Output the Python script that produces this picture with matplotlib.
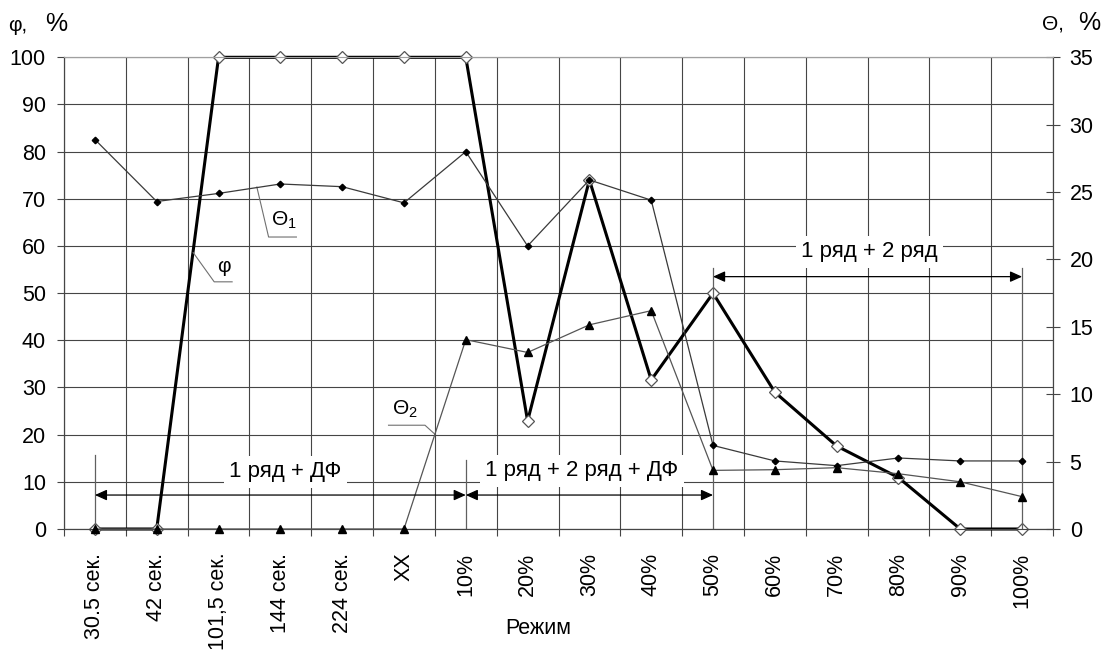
import numpy as np
import matplotlib
matplotlib.use("Agg")
import matplotlib.pyplot as plt

plt.rcParams['font.family'] = ['Liberation Sans', 'DejaVu Sans']
plt.rcParams['mathtext.fontset'] = 'custom'
plt.rcParams['mathtext.rm'] = 'Liberation Sans'
plt.rcParams['mathtext.it'] = 'Liberation Sans'

# ---- data ----
categories = ['30.5 сек.', '42 сек.', '101,5 сек.', '144 сек.', '224 сек.', 'ХХ',
              '10%', '20%', '30%', '40%', '50%', '60%', '70%', '80%', '90%', '100%']
phi = [0, 0, 100, 100, 100, 100, 100, 22.9, 74, 31.6, 50, 29, 17.6, 10.9, 0, 0]
theta1 = [28.9, 24.3, 24.9, 25.6, 25.4, 24.2, 28.0, 21.0, 25.9, 24.4, 6.2, 5.05, 4.7, 5.27, 5.05, 5.05]
theta2 = [0, 0, 0, 0, 0, 0, 14.05, 13.1, 15.15, 16.2, 4.35, 4.4, 4.55, 4.1, 3.5, 2.4]
left_ticks = list(range(0, 101, 10))
right_ticks = list(range(0, 36, 5))

W, H = 1115, 651
fig = plt.figure(figsize=(W / 100, H / 100), dpi=100)
x0, x1, ytop, ybot = 64, 1053, 57.3, 529
ax = fig.add_axes([x0 / W, 1 - ybot / H, (x1 - x0) / W, (ybot - ytop) / H])
ax2 = ax.twinx()

x = np.arange(len(categories))
gridc = '#454545'

ax.set_xlim(-0.5, len(categories) - 0.5)
ax.set_ylim(0, 100)
ax2.set_ylim(0, 35)

ax.set_xticks(x)
ax.set_xticklabels(categories, rotation=90, fontsize=15.5)
ax.set_xticks(np.arange(-0.5, len(categories), 1), minor=True)
ax.tick_params(axis='x', which='major', length=0, pad=17)
ax.tick_params(axis='x', which='minor', length=5, width=0.8, color=gridc, direction='out')
ax.set_yticks(left_ticks)
ax.tick_params(axis='y', which='major', length=5, width=0.8, color=gridc, direction='out',
               labelsize=15.5, pad=8)
ax.grid(True, axis='y', which='major', color=gridc, lw=0.8)
ax.grid(True, axis='x', which='minor', color=gridc, lw=0.8)

ax2.set_yticks(right_ticks)
ax2.tick_params(axis='y', length=10, width=0.8, color=gridc, direction='inout',
                labelsize=15.5, pad=7)

for a in (ax, ax2):
    for s in a.spines.values():
        s.set_color(gridc)
        s.set_linewidth(0.8)
    a.spines['top'].set_color('#a0a0a0')
ax2.patch.set_visible(False)

# ---- series ----
ax.plot(x, phi, color='black', lw=2.2, marker='D', ms=6, mfc='white', mec='#555555',
        mew=0.9, zorder=3, clip_on=False)
ax2.plot(x, theta1, color='#3a3a3a', lw=0.9, marker='D', ms=3.3, mfc='black', mec='black',
         zorder=4, clip_on=False)
ax2.plot(x, theta2, color='#555555', lw=0.9, marker='^', ms=5.5, mfc='black', mec='black',
         zorder=4, clip_on=False)

T = ax.transData
linec = '#606060'

# vertical marker lines
for xv, ytopv in [(0, 15.7), (6, 14.6), (10, 55.3), (15, 55.3)]:
    ax2.plot([xv, xv], [0, ytopv], color=linec, lw=0.9, transform=T, zorder=2)

arrow_kw = dict(arrowstyle='<|-|>,head_length=0.6,head_width=0.27', color='black', lw=0.9,
                shrinkA=0, shrinkB=0, mutation_scale=12)
for xa, xb, ya in [(0, 6, 7.2), (6, 10, 7.2), (10, 15, 53.5)]:
    ax2.annotate('', xy=(xb, ya), xytext=(xa, ya), xycoords=T, textcoords=T,
                 arrowprops=arrow_kw, zorder=5)

box = dict(facecolor='white', edgecolor='none', pad=4)
ax2.text(3.08, 12.1, '1 ряд + ДФ', transform=T, fontsize=16, ha='center', va='center',
         bbox=box, zorder=6)
ax2.text(7.88, 12.3, '1 ряд + 2 ряд + ДФ', transform=T, fontsize=16, ha='center', va='center',
         bbox=box, zorder=6)
ax2.text(12.53, 58.75, '1 ряд + 2 ряд', transform=T, fontsize=16, ha='center', va='center',
         bbox=box, zorder=6)

# leader labels
leaders = [
    ([1.59, 1.93, 2.22], [58.6, 52.4, 52.4], 'φ', (2.08, 55.6)),
    ([2.62, 2.81, 3.26], [72.5, 61.9, 61.9], 'Θ$_1$', (3.05, 65.5)),
    ([5.5, 5.34, 4.75], [20.1, 22.0, 22.0], 'Θ$_2$', (5.02, 25.4)),
]
for lx, ly, lab, (tx, ty) in leaders:
    ax2.plot(lx, ly, color='#707070', lw=0.8, transform=T, zorder=2)
    ax2.text(tx, ty, lab, transform=T, fontsize=15, ha='center', va='center', zorder=6)

# axis titles
fig.text(8 / W, 1 - 31 / H, 'φ,', fontsize=15, va='baseline', ha='left')
fig.text(45 / W, 1 - 31 / H, '%', fontsize=18, va='baseline', ha='left')
fig.text(1042 / W, 1 - 30 / H, 'Θ,', fontsize=15, va='baseline', ha='left')
fig.text(1078 / W, 1 - 30 / H, '%', fontsize=18, va='baseline', ha='left')
fig.text(538 / W, 1 - 629 / H, 'Режим', fontsize=15.5, va='center', ha='center')

fig.savefig('out.png', dpi=100, facecolor='white')
